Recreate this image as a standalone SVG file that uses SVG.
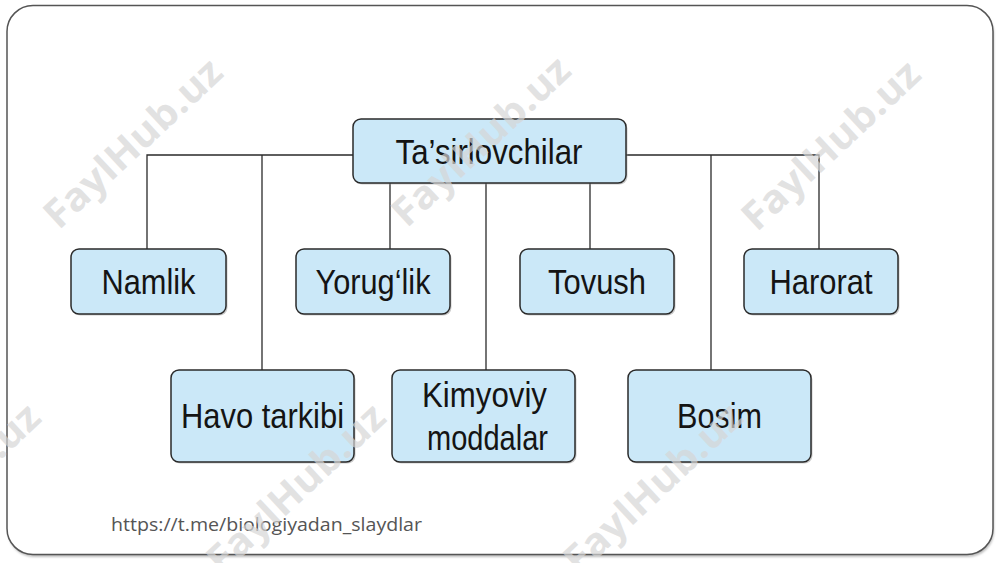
<svg xmlns="http://www.w3.org/2000/svg" width="1000" height="563" viewBox="0 0 1000 563">
  <defs>
    <style>
      .wm { font-family: "Open Sans", "Liberation Sans", sans-serif; font-weight: bold; font-size: 39px; fill: #d6d6d6; fill-opacity: 0.7; }
      .box { fill: #cbe8f8; stroke: #2a2a2a; stroke-width: 1.5; }
      .shadow { fill: #9a9a9a; opacity: 0.5; }
      .lbl { font-family: "Liberation Sans", Arial, sans-serif; font-size: 35px; fill: #141414; text-anchor: middle; }
      .conn { stroke: #2a2a2a; stroke-width: 1.3; fill: none; }
      .url { font-family: "Open Sans", "Noto Sans", sans-serif; font-size: 18px; fill: #555555; }
    </style>
    <filter id="fs" x="-5%" y="-5%" width="110%" height="110%">
      <feGaussianBlur stdDeviation="1.2"/>
    </filter>
  </defs>
  <rect x="0" y="0" width="1000" height="563" fill="#ffffff"/>
  <!-- frame -->
  <rect x="8" y="8" width="986" height="549" rx="26" fill="#bdbdbd" filter="url(#fs)"/>
  <rect x="7" y="5.5" width="986" height="549" rx="26" fill="#ffffff" stroke="#555555" stroke-width="1.5"/>

  <!-- connectors -->
  <g id="connectors">
    <polyline class="conn" points="147,249 147,155 353,155"/>
    <line class="conn" x1="262" y1="155" x2="262" y2="370"/>
    <polyline class="conn" points="626,155 819,155 819,249"/>
    <line class="conn" x1="711" y1="155" x2="711" y2="370"/>
    <line class="conn" x1="390" y1="183" x2="390" y2="249"/>
    <line class="conn" x1="486" y1="183" x2="486" y2="370"/>
    <line class="conn" x1="590" y1="183" x2="590" y2="249"/>
  </g>

  <!-- nodes -->
  <g id="node-tasirlovchilar">
    <rect class="shadow" x="354.5" y="120.5" width="273" height="64" rx="8"/>
    <rect class="box" x="353" y="119" width="273" height="64" rx="8"/>
    <text class="lbl" x="489" y="164" textLength="187" lengthAdjust="spacingAndGlyphs">Ta’sirlovchilar</text>
  </g>
  <g id="node-namlik">
    <rect class="shadow" x="72.5" y="250.5" width="155" height="65" rx="8"/>
    <rect class="box" x="71" y="249" width="155" height="65" rx="8"/>
    <text class="lbl" x="148.5" y="294" textLength="94" lengthAdjust="spacingAndGlyphs">Namlik</text>
  </g>
  <g id="node-yoruglik">
    <rect class="shadow" x="297.5" y="250.5" width="154" height="65" rx="8"/>
    <rect class="box" x="296" y="249" width="154" height="65" rx="8"/>
    <text class="lbl" x="373" y="294" textLength="115" lengthAdjust="spacingAndGlyphs">Yorug‘lik</text>
  </g>
  <g id="node-tovush">
    <rect class="shadow" x="521.5" y="250.5" width="154" height="65" rx="8"/>
    <rect class="box" x="520" y="249" width="154" height="65" rx="8"/>
    <text class="lbl" x="597" y="294" textLength="98" lengthAdjust="spacingAndGlyphs">Tovush</text>
  </g>
  <g id="node-harorat">
    <rect class="shadow" x="745.5" y="250.5" width="154" height="65" rx="8"/>
    <rect class="box" x="744" y="249" width="154" height="65" rx="8"/>
    <text class="lbl" x="821" y="294" textLength="103" lengthAdjust="spacingAndGlyphs">Harorat</text>
  </g>
  <g id="node-havo-tarkibi">
    <rect class="shadow" x="172.5" y="371.5" width="183" height="92" rx="8"/>
    <rect class="box" x="171" y="370" width="183" height="92" rx="8"/>
    <text class="lbl" x="262.5" y="428" textLength="163" lengthAdjust="spacingAndGlyphs">Havo tarkibi</text>
  </g>
  <g id="node-kimyoviy-moddalar">
    <rect class="shadow" x="393.5" y="371.5" width="183" height="92" rx="8"/>
    <rect class="box" x="392" y="370" width="183" height="92" rx="8"/>
    <text class="lbl" x="484.5" y="407" textLength="125" lengthAdjust="spacingAndGlyphs">Kimyoviy</text>
    <text class="lbl" x="487.5" y="450" textLength="121" lengthAdjust="spacingAndGlyphs">moddalar</text>
  </g>
  <g id="node-bosim">
    <rect class="shadow" x="629.5" y="371.5" width="183" height="92" rx="8"/>
    <rect class="box" x="628" y="370" width="183" height="92" rx="8"/>
    <text class="lbl" x="719.5" y="428" textLength="85" lengthAdjust="spacingAndGlyphs">Bosim</text>
  </g>

  <text class="url" x="111" y="531" textLength="311" lengthAdjust="spacingAndGlyphs">https://t.me/biologiyadan_slaydlar</text>

  <!-- watermarks (overlay) -->
  <g id="watermarks">
    <text class="wm" text-anchor="middle" textLength="228" lengthAdjust="spacingAndGlyphs" transform="translate(142,153) rotate(-43)">FaylHub.uz</text>
    <text class="wm" text-anchor="middle" textLength="228" lengthAdjust="spacingAndGlyphs" transform="translate(490,151) rotate(-43)">FaylHub.uz</text>
    <text class="wm" text-anchor="middle" textLength="228" lengthAdjust="spacingAndGlyphs" transform="translate(840,155) rotate(-43)">FaylHub.uz</text>
    <text class="wm" text-anchor="middle" textLength="228" lengthAdjust="spacingAndGlyphs" transform="translate(-40,498) rotate(-43)">FaylHub.uz</text>
    <text class="wm" text-anchor="middle" textLength="228" lengthAdjust="spacingAndGlyphs" transform="translate(305,498) rotate(-43)">FaylHub.uz</text>
    <text class="wm" text-anchor="middle" textLength="228" lengthAdjust="spacingAndGlyphs" transform="translate(662,498) rotate(-43)">FaylHub.uz</text>
  </g>
</svg>
